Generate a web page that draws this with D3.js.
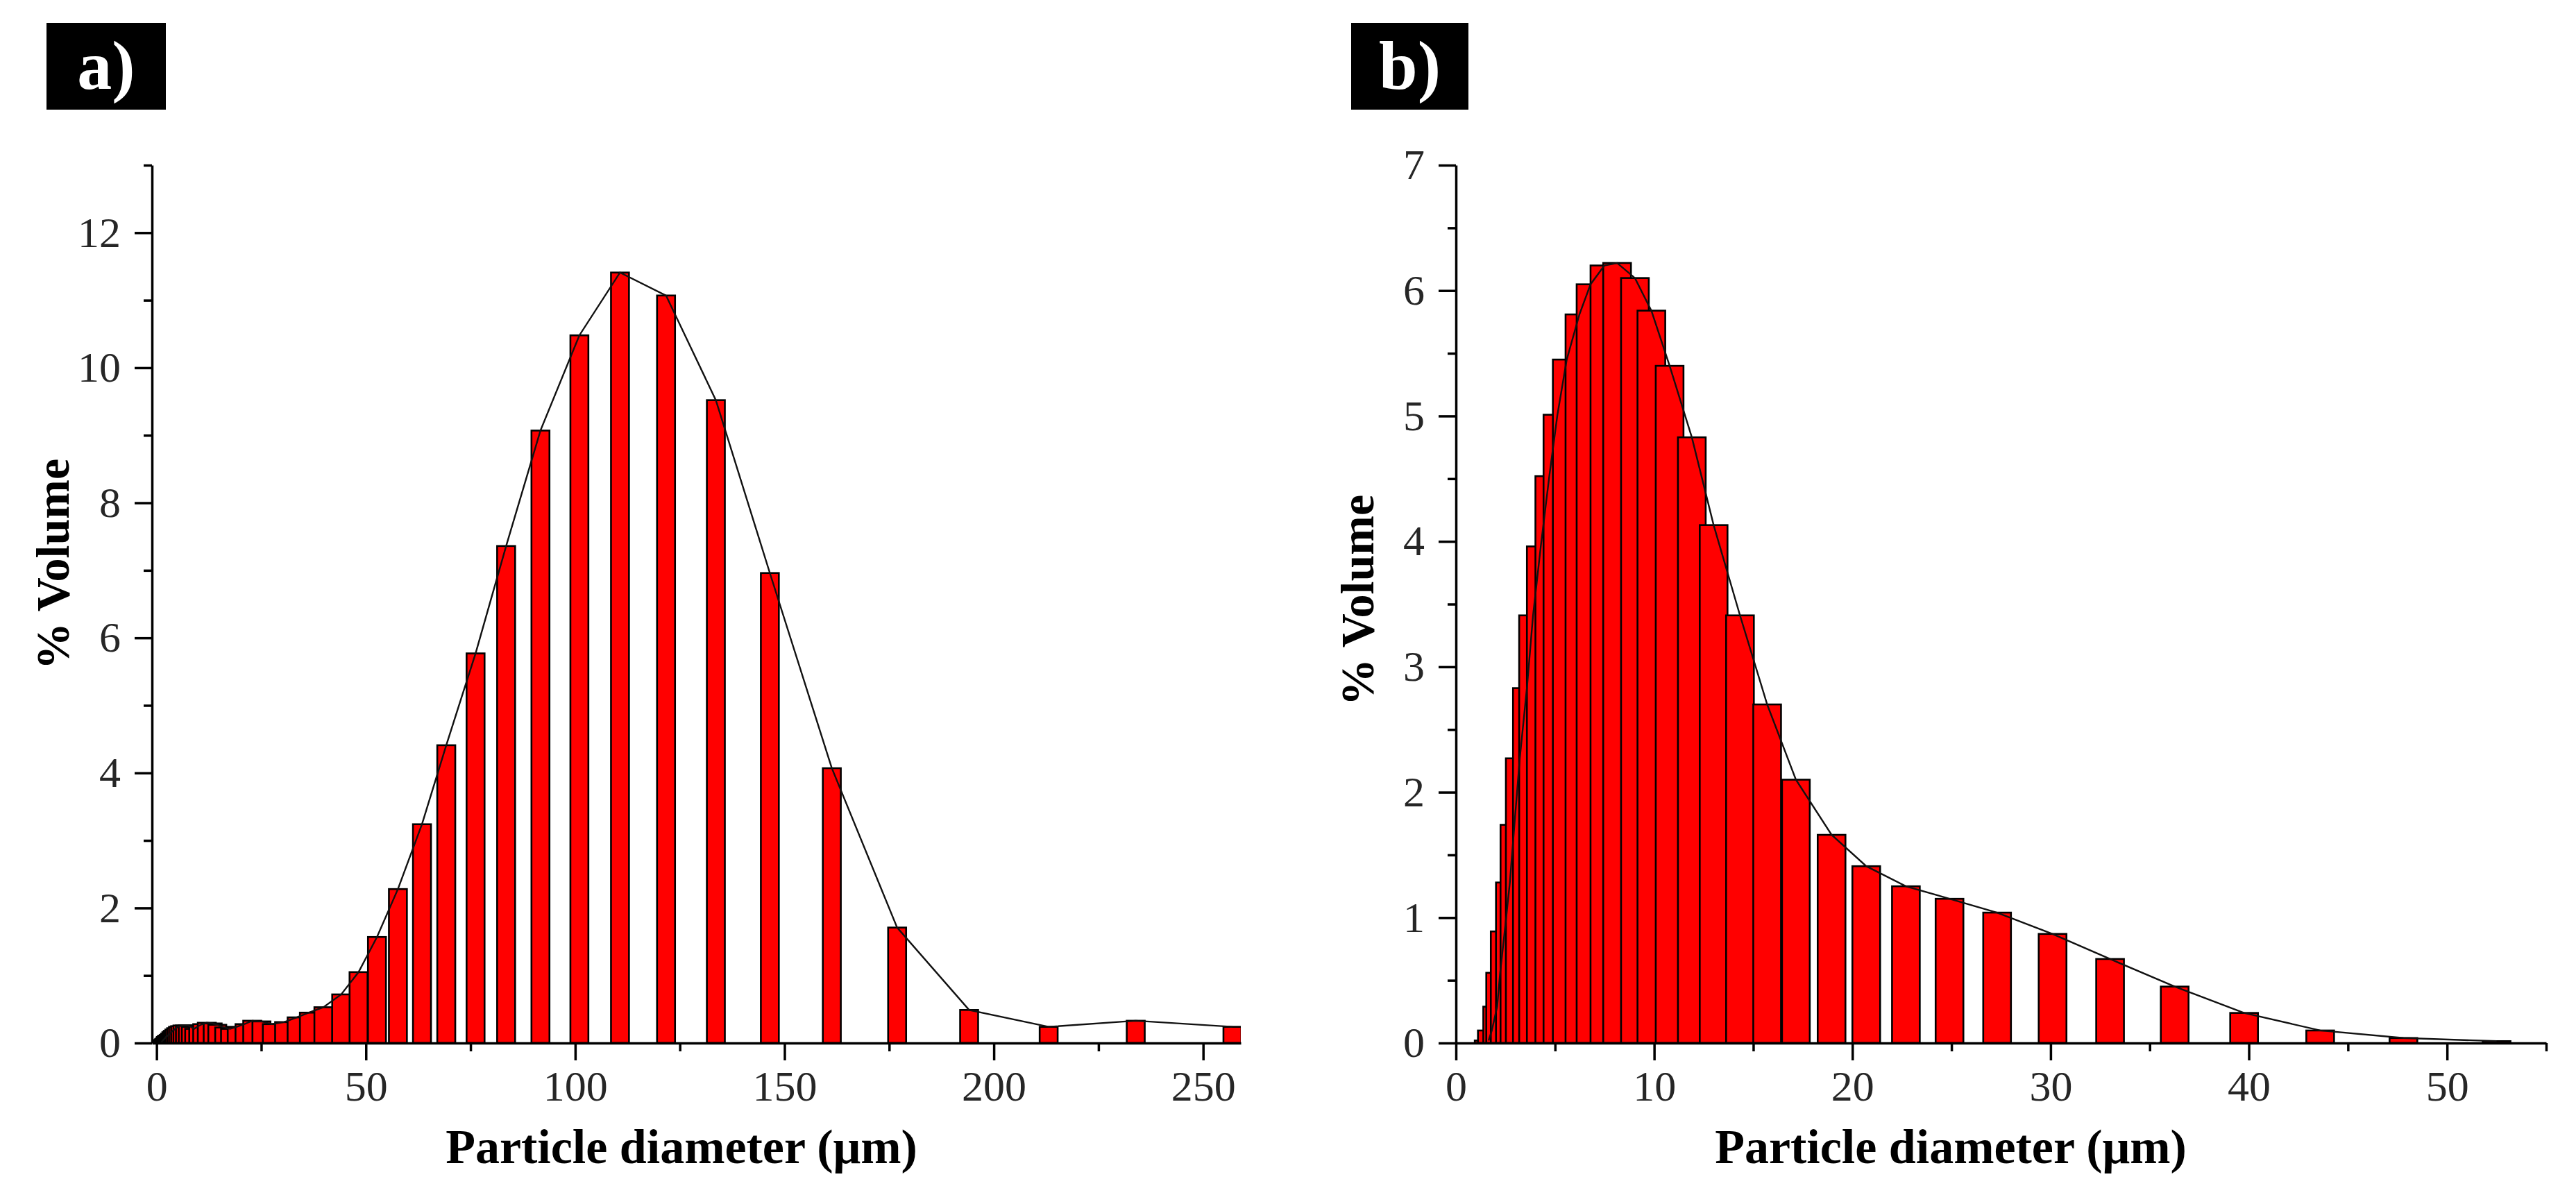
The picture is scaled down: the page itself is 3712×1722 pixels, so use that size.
<!DOCTYPE html>
<html>
<head>
<meta charset="utf-8">
<script src="https://cdn.jsdelivr.net/npm/d3@7"></script>
<style>
  body { margin: 0; background: #fff; }
  .tick text { font-family: "Palatino Linotype", "Book Antiqua", Palatino, "Liberation Serif", serif; fill: #262626; }
  .title { font-family: "Palatino Linotype", "Book Antiqua", Palatino, "Liberation Serif", serif; font-weight: bold; fill: #000; }
</style>
</head>
<body>
<div id="chart"></div>
<script>
// panel a) - coarse powder
const aDiameter = [1.15, 1.26, 1.39, 1.52, 1.67, 1.83, 2.01, 2.21, 2.43, 2.66, 2.93, 3.21, 3.53, 3.87,
  4.25, 4.67, 5.12, 5.63, 6.18, 6.78, 7.45, 8.18, 8.98, 9.95, 10.9, 12.0, 13.4, 14.5, 16.15, 17.55,
  19.15, 21.0, 22.85, 25.05, 27.53, 30.47, 33.45, 36.39, 39.85, 44.1, 48.25, 52.65, 57.65, 63.4,
  69.2, 76.2, 83.5, 91.7, 101, 110.7, 121.7, 133.6, 146.5, 161.3, 176.9, 194.1, 213.1, 233.9, 257];
const aVolume = [0.01, 0.02, 0.03, 0.04, 0.05, 0.06, 0.07, 0.09, 0.10, 0.11, 0.12, 0.14, 0.16, 0.18,
  0.20, 0.22, 0.24, 0.25, 0.26, 0.26, 0.26, 0.24, 0.21, 0.25, 0.28, 0.30, 0.29, 0.27, 0.23, 0.21,
  0.24, 0.28, 0.33, 0.32, 0.28, 0.31, 0.38, 0.45, 0.53, 0.72, 1.05, 1.57, 2.28, 3.24,
  4.41, 5.77, 7.36, 9.07, 10.48, 11.41, 11.07, 9.52, 6.96, 4.07, 1.71, 0.49, 0.24, 0.33, 0.24];

// panel b) - fine powder
const bDiameter = [1.65, 1.81, 2.08, 2.23, 2.46, 2.72, 2.95, 3.22, 3.58, 3.89, 4.28, 4.71, 5.12, 5.59,
  6.23, 6.79, 7.49, 8.13, 9.03, 9.86, 10.78, 11.9, 13.0, 14.33, 15.7, 17.15, 18.95, 20.7, 22.7,
  24.9, 27.3, 30.1, 33.0, 36.26, 39.76, 43.6, 47.8, 52.5];
const bVolume = [0.02, 0.10, 0.29, 0.56, 0.89, 1.28, 1.74, 2.27, 2.83, 3.41, 3.96, 4.52, 5.01, 5.45,
  5.81, 6.05, 6.20, 6.22, 6.10, 5.84, 5.40, 4.83, 4.13, 3.41, 2.70, 2.10, 1.66, 1.41, 1.25,
  1.15, 1.04, 0.87, 0.67, 0.45, 0.24, 0.10, 0.04, 0.015];

const aXTicks = [0, 50, 100, 150, 200, 250];
const aXMinor = [25, 75, 125, 175, 225];
const aYTicks = [0, 2, 4, 6, 8, 10, 12];
const aYMinor = [1, 3, 5, 7, 9, 11, 13];

const bXTicks = [0, 10, 20, 30, 40, 50];
const bXMinor = [5, 15, 25, 35, 45, 55];
const bYTicks = [0, 1, 2, 3, 4, 5, 6, 7];
const bYMinor = [0.5, 1.5, 2.5, 3.5, 4.5, 5.5, 6.5];

const xTitle = 'Particle diameter (\u03bcm)';
const yTitle = '% Volume';

const W = 3712, H = 1722;
const plotTop = 238, plotBottom = 1503;

const svg = d3.select('#chart').append('svg')
  .attr('width', W)
  .attr('height', H)
  .attr('viewBox', `0 0 ${W} ${H}`);

svg.append('rect').attr('width', W).attr('height', H).attr('fill', '#fff');

function drawPanel(p) {
  const x = d3.scaleLinear().domain(p.xDomain).range([p.left, p.right]);
  const y = d3.scaleLinear().domain(p.yDomain).range([plotBottom, plotTop]);
  const data = p.diameter.map((d, i) => ({ d: d, v: p.volume[i] }));

  svg.append('clipPath').attr('id', 'clip-' + p.id)
    .append('rect')
    .attr('x', p.left).attr('y', plotTop - 10)
    .attr('width', p.right - p.left).attr('height', plotBottom - plotTop + 10);

  const plot = svg.append('g').attr('clip-path', `url(#clip-${p.id})`);

  plot.selectAll('rect.bar')
    .data(data)
    .enter()
    .append('rect')
    .attr('class', 'bar')
    .attr('x', d => x(d.d - p.barWidth / 2))
    .attr('width', d => x(d.d + p.barWidth / 2) - x(d.d - p.barWidth / 2))
    .attr('y', d => y(d.v))
    .attr('height', d => plotBottom - y(d.v))
    .attr('fill', '#ff0000')
    .attr('stroke', '#000')
    .attr('stroke-width', 2.6);

  const line = d3.line().x(d => x(d.d)).y(d => y(d.v));
  plot.append('path')
    .datum(data)
    .attr('d', line)
    .attr('fill', 'none')
    .attr('stroke', '#111')
    .attr('stroke-width', 2.4);

  // minor ticks
  svg.append('g')
    .attr('transform', `translate(0,${plotBottom})`)
    .call(d3.axisBottom(x).tickValues(p.xMinor).tickSize(12).tickSizeOuter(0).tickFormat(''))
    .call(g => g.select('.domain').remove());
  svg.append('g')
    .attr('transform', `translate(${p.left},0)`)
    .call(d3.axisLeft(y).tickValues(p.yMinor).tickSize(12).tickSizeOuter(0).tickFormat(''))
    .call(g => g.select('.domain').remove());

  const xAxis = svg.append('g')
    .attr('transform', `translate(0,${plotBottom})`)
    .call(d3.axisBottom(x).tickValues(p.xTicks).tickSize(25).tickSizeOuter(0)
      .tickPadding(14).tickFormat(d3.format('d')));
  xAxis.selectAll('text').style('font-size', '62px');

  const yAxis = svg.append('g')
    .attr('transform', `translate(${p.left},0)`)
    .call(d3.axisLeft(y).tickValues(p.yTicks).tickSize(25).tickSizeOuter(0)
      .tickPadding(20).tickFormat(d3.format('d')));
  yAxis.selectAll('text').style('font-size', '62px');

  svg.selectAll('.domain, .tick line')
    .attr('stroke', '#000')
    .attr('stroke-width', 3.5);

  svg.append('text')
    .attr('class', 'title')
    .attr('x', p.xTitleX)
    .attr('y', 1676)
    .attr('text-anchor', 'middle')
    .style('font-size', '70px')
    .text(xTitle);

  svg.append('text')
    .attr('class', 'title')
    .attr('transform', `translate(${p.yTitleX},${p.yTitleY}) rotate(-90)`)
    .attr('text-anchor', 'middle')
    .style('font-size', '68px')
    .text(yTitle);

  svg.append('rect')
    .attr('x', p.boxX).attr('y', 33)
    .attr('width', p.boxW).attr('height', 125)
    .attr('fill', '#000');

  svg.append('text')
    .attr('class', 'title')
    .attr('x', p.boxX + p.boxW / 2)
    .attr('y', 128)
    .attr('text-anchor', 'middle')
    .style('font-size', '100px')
    .style('fill', '#fff')
    .text(p.label);
}

drawPanel({
  id: 'a', label: 'a)',
  diameter: aDiameter, volume: aVolume,
  xDomain: [-1.1, 259], yDomain: [0, 13],
  left: 219, right: 1788,
  xTicks: aXTicks, xMinor: aXMinor, yTicks: aYTicks, yMinor: aYMinor,
  barWidth: 4.3,
  xTitleX: 982, yTitleX: 99, yTitleY: 813,
  boxX: 67, boxW: 172
});

drawPanel({
  id: 'b', label: 'b)',
  diameter: bDiameter, volume: bVolume,
  xDomain: [0, 55], yDomain: [0, 7],
  left: 2098, right: 3669,
  xTicks: bXTicks, xMinor: bXMinor, yTicks: bYTicks, yMinor: bYMinor,
  barWidth: 1.4,
  xTitleX: 2811, yTitleX: 1979, yTitleY: 865,
  boxX: 1947, boxW: 169
});
</script>
</body>
</html>
